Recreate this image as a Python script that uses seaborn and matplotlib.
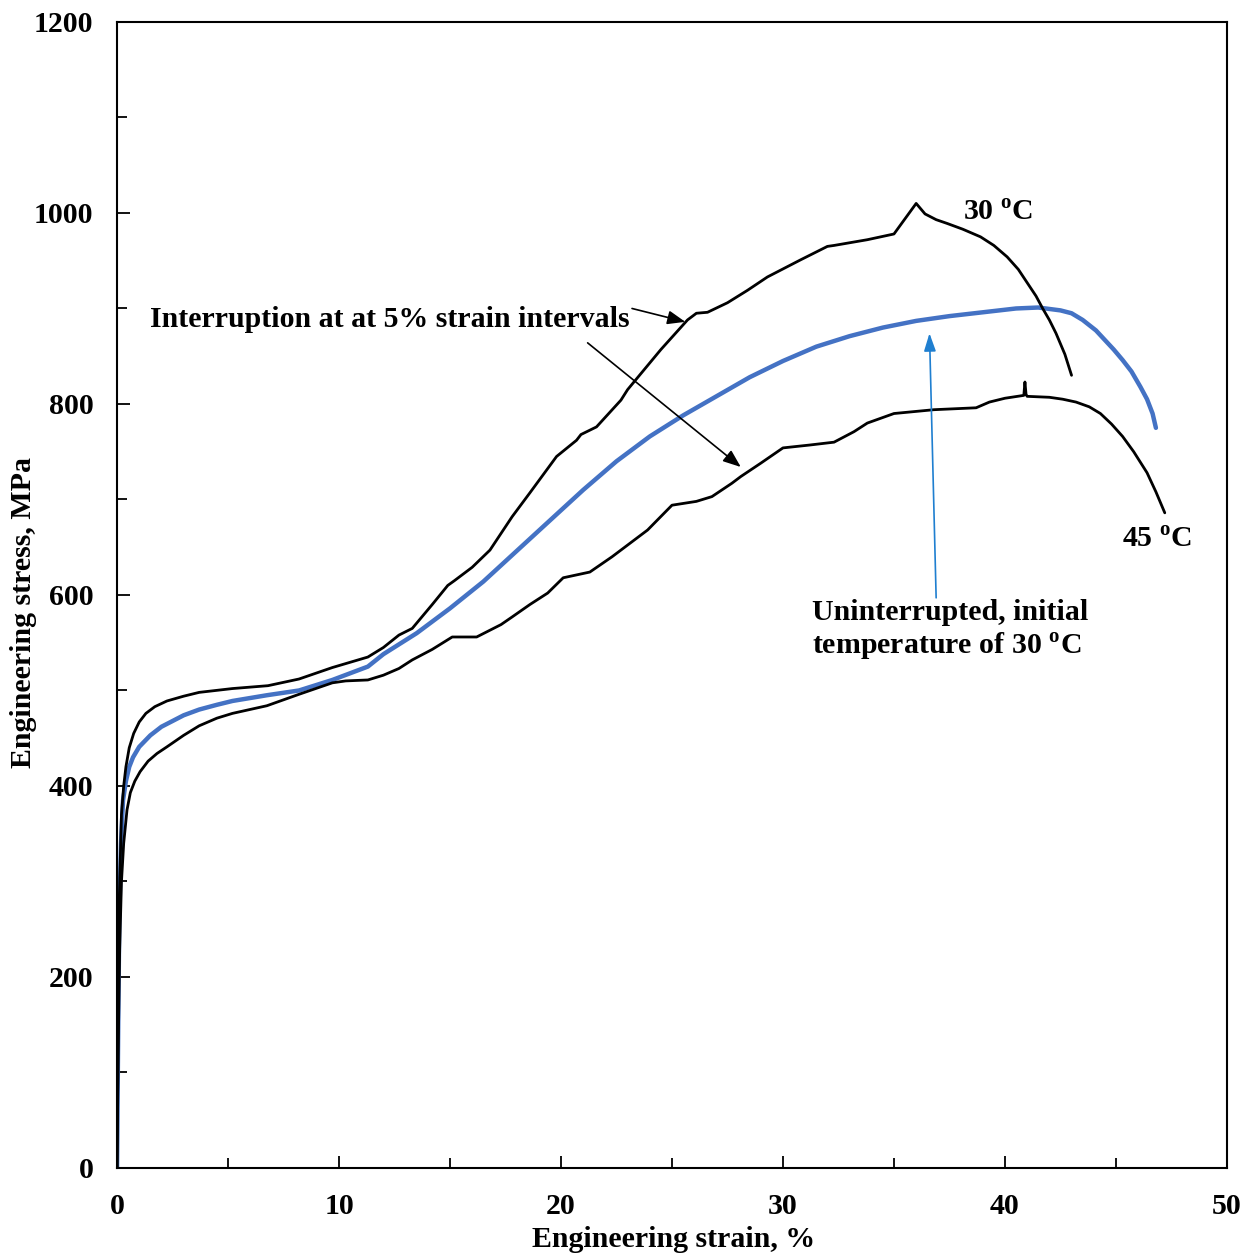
import numpy as np
import pandas as pd
import matplotlib
matplotlib.use("Agg")
import matplotlib.pyplot as plt
from matplotlib.ticker import MultipleLocator
import seaborn as sns

# Engineering stress-strain data (strain in %, stress in MPa)
strain_30 = [0, 0.05, 0.1, 0.2, 0.3, 0.4, 0.55, 0.75, 1.0, 1.3, 1.7, 2.25, 3.0, 3.7, 5.2,
             6.8, 8.2, 9.7, 11.3, 12.0, 12.7, 13.3, 14.2, 14.9, 15.2, 16.0, 16.8, 17.8,
             18.6, 19.8, 20.7, 20.9, 21.6, 22.7, 23.0, 24.5, 25.7, 26.1, 26.6, 27.5, 28.4,
             29.3, 30.8, 32.0, 32.3, 33.8, 35.0, 36.0, 36.4, 36.9, 37.4, 38.1, 38.9, 39.5,
             40.1, 40.6, 41.0, 41.4, 41.7, 42.0, 42.3, 42.7, 43.0]
stress_30 = [0, 150, 280, 370, 400, 420, 440, 455, 467, 476, 483, 489, 494, 498, 502,
             505, 512, 524, 535, 545, 558, 565, 590, 610, 615, 629, 647, 682,
             707, 745, 762, 768, 776, 804, 815, 857, 888, 895, 896, 906, 919,
             933, 951, 965, 966, 972, 978, 1010, 999, 993, 989, 983, 975, 966,
             954, 941, 927, 913, 900, 888, 874, 852, 830]

strain_45 = [0, 0.05, 0.12, 0.2, 0.3, 0.45, 0.6, 0.8, 1.04, 1.4, 1.8, 2.25, 3.0, 3.7, 4.5,
             5.2, 6.75, 8.2, 9.7, 10.3, 11.3, 12.0, 12.7, 13.3, 14.2, 15.1, 16.2, 17.3,
             17.8, 18.6, 19.4, 20.1, 20.5, 21.3, 22.3, 23.9, 25.0, 26.1, 26.8, 27.7, 28.1,
             29.0, 30.0, 31.2, 32.3, 33.2, 33.8, 35.0, 36.8, 38.7, 39.3, 40.0, 40.85, 40.9,
             40.95, 41.0, 42.0, 42.6, 43.2, 43.8, 44.3, 44.8, 45.3, 45.8, 46.4, 46.8, 47.2]
stress_45 = [0, 120, 230, 300, 340, 375, 393, 405, 415, 426, 434, 441, 453, 463, 471,
             476, 484, 496, 508, 510, 511, 516, 523, 532, 543, 556, 556, 569,
             577, 590, 602, 618, 620, 624, 640, 668, 694, 698, 703, 717, 724,
             738, 754, 757, 760, 771, 780, 790, 794, 796, 802, 806, 809, 823,
             810, 808, 807, 805, 802, 797, 790, 779, 766, 750, 728, 708, 686]

strain_un = [0, 0.05, 0.1, 0.18, 0.27, 0.4, 0.55, 0.72, 1.0, 1.5, 2.0, 2.5, 3.0, 3.7, 4.5,
             5.2, 6.75, 8.2, 9.7, 11.3, 12.0, 13.5, 15.0, 16.5, 18.0, 19.5, 21.0, 22.5,
             24.0, 25.5, 27.0, 28.5, 30.0, 31.5, 33.0, 34.5, 36.0, 37.5, 39.0, 40.5, 41.5,
             42.5, 43.0, 43.5, 44.1, 44.5, 44.9, 45.3, 45.7, 46.1, 46.4, 46.65, 46.8]
stress_un = [0, 140, 260, 340, 385, 405, 420, 430, 441, 453, 462, 468, 474, 480, 485,
             489, 495, 500, 511, 525, 538, 560, 586, 614, 646, 678, 710, 740,
             766, 788, 808, 828, 845, 860, 871, 880, 887, 892, 896, 900, 901,
             898, 895, 888, 877, 867, 857, 846, 834, 818, 805, 790, 775]

x_ticks = [0, 10, 20, 30, 40, 50]
y_ticks = [0, 200, 400, 600, 800, 1000, 1200]

sns.set_theme(style="ticks")
plt.rcParams["font.family"] = ["Liberation Serif", "DejaVu Serif"]
plt.rcParams["font.weight"] = "bold"
plt.rcParams["mathtext.fontset"] = "custom"
plt.rcParams["mathtext.rm"] = "Liberation Serif:bold"
plt.rcParams["mathtext.bf"] = "Liberation Serif:bold"
for key in ("text.color", "axes.labelcolor", "xtick.color", "ytick.color",
            "axes.edgecolor"):
    plt.rcParams[key] = "black"

fig = plt.figure(figsize=(12.53, 12.56), dpi=100)
ax = fig.add_axes([0.0934, 0.0701, 0.8858, 0.9124])

d30 = pd.DataFrame({"strain": strain_30, "stress": stress_30})
d45 = pd.DataFrame({"strain": strain_45, "stress": stress_45})
dun = pd.DataFrame({"strain": strain_un, "stress": stress_un})

sns.lineplot(data=dun, x="strain", y="stress", sort=False, estimator=None,
             color="#4472C4", linewidth=3.2, ax=ax)
sns.lineplot(data=d30, x="strain", y="stress", sort=False, estimator=None,
             color="black", linewidth=2.0, ax=ax)
sns.lineplot(data=d45, x="strain", y="stress", sort=False, estimator=None,
             color="black", linewidth=2.0, ax=ax)

ax.set_xlim(0, 50)
ax.set_ylim(0, 1200)
ax.set_xticks(x_ticks)
ax.set_yticks(y_ticks)
ax.xaxis.set_minor_locator(MultipleLocator(5))
ax.yaxis.set_minor_locator(MultipleLocator(100))
ax.tick_params(axis="both", which="major", direction="in", length=9, width=1.3,
               labelsize=21.5, top=False, right=False)
ax.tick_params(axis="x", which="major", pad=18)
ax.tick_params(axis="y", which="major", pad=17)
ax.tick_params(axis="both", which="minor", direction="in", length=7, width=1.3,
               top=False, right=False)
for lab in ax.get_xticklabels() + ax.get_yticklabels():
    lab.set_fontweight("bold")
for sp in ax.spines.values():
    sp.set_linewidth(1.5)
    sp.set_color("black")

ax.set_xlabel("Engineering strain, %", fontsize=21.5, fontweight="bold")
ax.set_ylabel("Engineering stress, MPa", fontsize=21.5, fontweight="bold")
ax.xaxis.set_label_coords(0.501, -0.0505)
ax.yaxis.set_label_coords(-0.072, 0.4845)

# Curve labels
ax.text(39.7, 1000, r"30 $^{\mathrm{o}}$C", fontsize=21.5, fontweight="bold",
        ha="center", va="center")
ax.text(46.85, 657, r"45 $^{\mathrm{o}}$C", fontsize=21.5, fontweight="bold",
        ha="center", va="center")
ax.text(1.5, 888, "Interruption at at 5% strain intervals", fontsize=21.5,
        fontweight="bold", ha="left", va="center")
ax.text(31.3, 562, "Uninterrupted, initial\ntemperature of 30 $^{\\mathrm{o}}$C",
        fontsize=21.5, fontweight="bold", ha="left", va="center", linespacing=1.2)

# Pointer arrows
arrow_black = dict(arrowstyle="-|>,head_length=0.9,head_width=0.35", color="black",
                   lw=1.2, shrinkA=0, shrinkB=0)
ax.annotate("", xy=(25.6, 886), xytext=(23.2, 900), arrowprops=arrow_black)
ax.annotate("", xy=(28.1, 734), xytext=(21.2, 864), arrowprops=arrow_black)
ax.annotate("", xy=(36.6, 874), xytext=(36.9, 597),
            arrowprops=dict(arrowstyle="-|>,head_length=0.9,head_width=0.3",
                            color="#1F7FD0", lw=1.2, shrinkA=0, shrinkB=0))

fig.savefig("out.png", dpi=100)
